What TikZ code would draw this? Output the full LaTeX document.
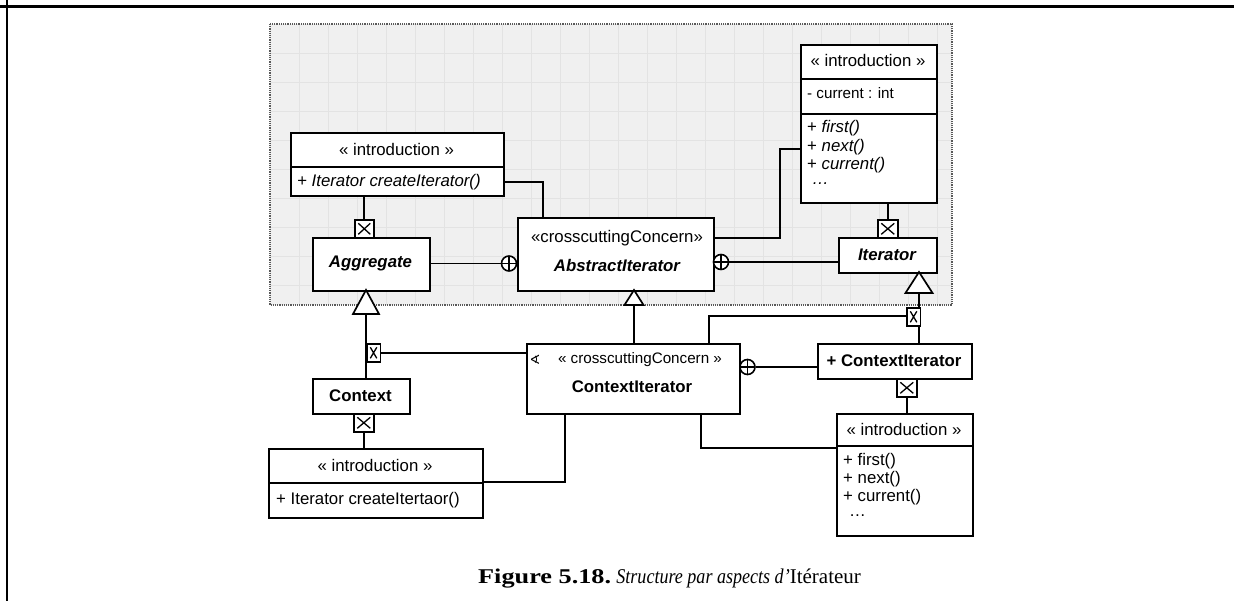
\documentclass[tikz,border=0pt]{standalone}
\usepackage{fontspec}
\usepackage{graphicx}
\setmainfont{Liberation Serif}
\newfontfamily\arialf{Liberation Sans}
\newfontfamily\symf{DejaVu Sans}
\begin{document}
\begin{tikzpicture}[x=1pt,y=-1pt,
  umlbox/.style={draw,line width=1.9pt,fill=white,inner sep=0pt,anchor=north west},
  xbox/.style={draw,line width=1.6pt,fill=white,inner sep=0pt,anchor=north west,
    path picture={\draw[line width=1.3pt]
      ([shift={(3.5pt,-3.5pt)}]path picture bounding box.north west) -- ([shift={(-3.5pt,3.5pt)}]path picture bounding box.south east)
      ([shift={(-3.5pt,-3.5pt)}]path picture bounding box.north east) -- ([shift={(3.5pt,3.5pt)}]path picture bounding box.south west);}},
  oplus/.style={circle,draw,line width=1.6pt,minimum size=15pt,inner sep=0pt,fill=white,
    path picture={\draw[line width=1.6pt]
      (path picture bounding box.north) -- (path picture bounding box.south)
      (path picture bounding box.west) -- (path picture bounding box.east);}},
  conn/.style={line width=1.8pt},
  tri/.style={draw,line width=1.7pt,fill=white,line join=miter},
  txt/.style={font=\arialf\fontsize{16.8}{18}\selectfont,inner sep=0pt},
  txts/.style={font=\arialf\fontsize{15.2}{17}\selectfont,inner sep=0pt},
  divider/.style={line width=1.9pt}
]
\useasboundingbox (0,0) rectangle (1234,601);
\fill[white] (0,0) rectangle (1234,601);
% page frame
\draw[line width=2.8pt] (0,6.3) -- (1234,6.3);
\draw[line width=2.2pt] (6.8,0) -- (6.8,601);
% grey aspect region
\fill[black!6] (270,24) rectangle (952,305);
\foreach \gx in {299,328,...,950} \draw[black!11,line width=0.7pt] (\gx,24) -- (\gx,305);
\foreach \gy in {53,82,...,304} \draw[black!11,line width=0.7pt] (270,\gy) -- (952,\gy);
\draw[black!65,densely dotted,line width=1.2pt] (270,24) rectangle (952,305);

% ---- boxes ----
\node[umlbox,minimum width=213pt,minimum height=63pt] (introA) at (290,132) {};
\node[umlbox,minimum width=117pt,minimum height=53pt] (agg) at (312,237) {};
\node[umlbox,minimum width=196pt,minimum height=73pt] (absI) at (517,217) {};
\node[umlbox,minimum width=136pt,minimum height=158pt] (introB) at (800,44) {};
\node[umlbox,minimum width=98pt,minimum height=35pt] (iter) at (838,237) {};
\node[umlbox,minimum width=97pt,minimum height=35pt] (ctx) at (312,378) {};
\node[umlbox,minimum width=213pt,minimum height=70pt] (ctxI) at (526,343) {};
\node[umlbox,minimum width=154pt,minimum height=35pt] (pctx) at (817,343) {};
\node[umlbox,minimum width=214pt,minimum height=69pt] (introC) at (268,448) {};
\node[umlbox,minimum width=136pt,minimum height=122pt] (introD) at (836,413) {};

% compartments
\draw[divider] (introA.west |- 0,167) -- (introA.east |- 0,167);
\draw[divider] (introB.west |- 0,79) -- (introB.east |- 0,79);
\draw[divider] (introB.west |- 0,114) -- (introB.east |- 0,114);
\draw[divider] (introC.west |- 0,483) -- (introC.east |- 0,483);
\draw[divider] (introD.west |- 0,446) -- (introD.east |- 0,446);

% ---- texts ----
\node[txt] (tA1) at (396.5,149) {« introduction »};
\node[txt,anchor=west] (tA2) at (297,182) {\itshape + Iterator createIterator()};
\node[txt] (tAgg) at (370.5,263) {\bfseries\itshape Aggregate};
\node[txt] (tAb1) at (617,238) {«crosscuttingConcern»};
\node[txt] (tAb2) at (617,265) {\bfseries\itshape AbstractIterator};
\node[txt] (tB1) at (868,60) {« introduction »};
\node[txts,anchor=west] (tB2) at (807,93) {- current : int};
\node[txt,anchor=west] (tB3) at (807,128) {+ \textit{first()}};
\node[txt,anchor=west] (tB4) at (807,147) {+ \textit{next()}};
\node[txt,anchor=west] (tB5) at (807,165) {+ \textit{current()}};
\node[txt,anchor=west] (tB6) at (812,184) {\textit{…}};
\node[txt] (tIt) at (887,255) {\bfseries\itshape Iterator};
\node[txt] (tCtx) at (360.5,396) {\bfseries Context};
\node[inner sep=0pt,font=\symf\fontsize{13}{14}\selectfont] (tSym) at (535,360) {∢};
\node[txts] (tCI1) at (640,360) {« crosscuttingConcern »};
\node[txt] (tCI2) at (632,387) {\bfseries ContextIterator};
\node[txt] (tPC) at (894,361) {\bfseries + ContextIterator};
\node[txt] (tC1) at (375,465) {« introduction »};
\node[txt,anchor=west] (tC2) at (276,500) {+ Iterator createItertaor()};
\node[txt] (tD1) at (904,429) {« introduction »};
\node[txt,anchor=west] (tD2) at (843,461) {+ first()};
\node[txt,anchor=west] (tD3) at (843,479) {+ next()};
\node[txt,anchor=west] (tD4) at (843,497) {+ current()};
\node[txt,anchor=west] (tD5) at (849,516) {…};

% caption
\node[anchor=base west,inner sep=0pt,font=\fontsize{21}{24}\selectfont] (cap) at (478,583)
  {\scalebox{1.25}[1]{\textbf{Figure 5.18.}} \scalebox{0.86}[1]{\textit{Structure par aspects d'}}Itérateur};

% ---- connector coordinates ----
\coordinate (k1) at (543,182);
\coordinate (k2a) at (780,238);
\coordinate (k2b) at (780,149);
\coordinate (k3) at (565,482);
\coordinate (k4) at (709,316);
\coordinate (k5) at (701,448);
\coordinate (t1) at (366,290);
\coordinate (t2) at (634,290);
\coordinate (t3) at (919,272);

% ---- connectors ----
\draw[conn] (k1 -| introA.east) -- (k1) -- (k1 |- absI.north);
\draw[conn] (k2a -| absI.east) -- (k2a) -- (k2b) -- (k2b -| introB.west);
\draw[conn] (k3 -| introC.east) -- (k3) -- (k3 |- ctxI.south);
\draw[conn] (k4 |- ctxI.north) -- (k4) -- (k4 -| 906,0);
\draw[conn] (k5 -| introD.west) -- (k5) -- (k5 |- ctxI.south);
\draw[conn] (t1) -- (t1 |- ctx.north);
\draw[conn] (t2) -- (t2 |- ctxI.north);
\draw[conn] (t3) -- (t3 |- pctx.north);

% x boxes
\node[xbox,minimum width=19pt,minimum height=18pt] (xA) at (354,219) {};
\node[xbox,minimum width=20pt,minimum height=18pt] (xB) at (877,219) {};
\node[xbox,minimum width=13.5pt,minimum height=18pt] (xC) at (366,343) {};
\node[xbox,minimum width=20pt,minimum height=18pt] (xD) at (353,413) {};
\node[xbox,minimum width=13.5pt,minimum height=18pt] (xE) at (906,307) {};
\node[xbox,minimum width=20pt,minimum height=18pt] (xF) at (896,378) {};

\draw[conn] (xA.north) -- (xA.north |- introA.south);
\draw[conn] (xB.north) -- (xB.north |- introB.south);
\draw[conn] (xC.east) -- (xC.east -| ctxI.west);
\draw[conn] (xD.south) -- (xD.south |- introC.north);
\draw[conn] (xF.south) -- (xF.south |- introD.north);

% circle-plus (nesting) connectors
\node[oplus] (op1) at (509,263.5) {};
\node[oplus] (op2) at (721,262) {};
\node[oplus] (op3) at (747.5,367) {};
\draw[conn] (agg.east |- op1.west) -- (op1.west);
\draw[conn] (op2.east) -- (op2.east -| iter.west);
\draw[conn] (op3.east) -- (op3.east -| pctx.west);

% generalization triangles
\draw[tri] (t1) -- ++(13,24) -- ++(-26,0) -- cycle;
\draw[tri] (t2) -- ++(9.5,15) -- ++(-19,0) -- cycle;
\draw[tri] (t3) -- ++(13.5,21) -- ++(-27,0) -- cycle;
\end{tikzpicture}
\end{document}
